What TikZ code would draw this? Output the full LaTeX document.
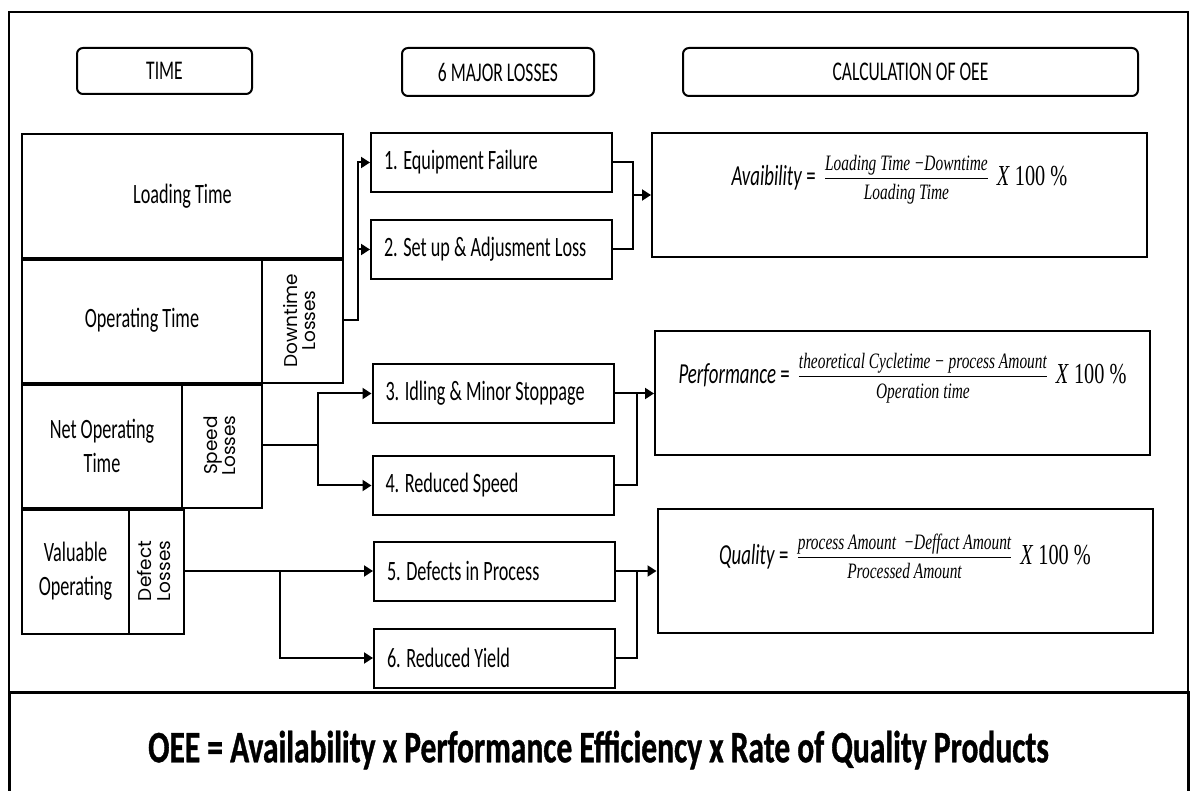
\documentclass[tikz,border=0pt]{standalone}
\usepackage{fontspec}
\setmainfont{Carlito}[FakeStretch=0.65]
\newfontfamily\eqserif{Liberation Serif}[FakeStretch=0.7]
\newfontfamily\gothic{Poppins}
\newfontfamily\oeefont{Carlito}[FakeStretch=0.7, FakeBold=0.8]
\usetikzlibrary{arrows.meta,positioning,calc}
\newcommand{\ratio}[2]{\hspace{5pt}{\eqserif\itshape\fontsize{22}{25}\selectfont
  \begin{tabular}[c]{@{}c@{}}#1\\\hline\rule{0pt}{22pt}#2\end{tabular}}\hspace{9pt}}
\newcommand{\sidetext}[2]{\rotatebox{90}{\gothic\fontsize{18.5}{18}\selectfont
  \begin{tabular}{@{}c@{}}#1\\#2\end{tabular}}}
\newcommand{\losslabel}[1]{\makebox[215pt][l]{#1}}
\tikzset{
  header/.style={draw, line width=2pt, rounded corners=6pt, align=center, inner sep=0pt, font=\fontsize{27}{32}\selectfont},
  block/.style={draw, line width=2pt, align=center, inner sep=0pt, font=\fontsize{28}{34}\selectfont},
  lossbox/.style={draw, line width=2pt, inner xsep=13pt, inner ysep=0pt, minimum height=59pt, font=\fontsize{28}{34}\selectfont},
  eqbox/.style={draw, line width=2pt, minimum width=495pt, minimum height=124pt, inner sep=0pt},
  formula/.style={inner sep=0pt, font=\fontsize{29}{34}\selectfont},
  sep/.style={line width=4.5pt},
  link/.style={line width=2pt},
  arrow/.style={-{Triangle[length=9pt,width=11pt]}, line width=2pt}
}

\begin{document}
\begin{tikzpicture}[x=1pt, y=-1pt]
  \useasboundingbox (0,0) rectangle (1192,791);
  \draw[line width=2pt] (9,12) rectangle (1188,692);

  % column headings
  \node[header, minimum width=175pt, minimum height=46pt] (time) at (164.5,71) {TIME};
  \node[header, minimum width=192pt, minimum height=48pt] (majorlosses) at (498,72) {6 MAJOR LOSSES};
  \node[header, minimum width=455pt, minimum height=48pt] (calcoee) at (910.5,72) {CALCULATION OF OEE};

  % time blocks
  \node[block, minimum width=321pt, minimum height=124pt] (loading) at (182.5,196) {Loading Time};
  \node[block, minimum width=240pt, minimum height=125pt] (operating) at (142,320.5) {Operating Time};
  \node[block, minimum width=81pt, minimum height=125pt] (downtime) at (302.5,320.5) {\sidetext{Downtime}{Losses}};
  \node[block, minimum width=160pt, minimum height=125pt] (netop) at (102,445.5) {Net Operating\\Time};
  \node[block, minimum width=80pt, minimum height=125pt] (speed) at (222,445.5) {\sidetext{Speed}{Losses}};
  \node[block, minimum width=107pt, minimum height=126pt] (valuable) at (75.5,571) {Valuable\\Operating};
  \node[block, minimum width=55pt, minimum height=126pt] (defect) at (156.5,571) {\sidetext{Defect}{Losses}};
  \draw[sep] (loading.south west) -- (loading.south east);
  \draw[sep] (operating.south west) -- (operating.south east);
  \draw[sep] (netop.south west) -- (netop.south east);

  % losses
  \node[lossbox] (fail) at (491.5,162.5) {\losslabel{1. Equipment Failure}};
  \node[lossbox, below=26pt of fail] (setup) {\losslabel{2. Set up \& Adjusment Loss}};
  \node[lossbox] (idling) at (493,393.5) {\losslabel{3. Idling \& Minor Stoppage}};
  \node[lossbox, below=31pt of idling] (reduced) {\losslabel{4. Reduced Speed}};
  \node[lossbox] (defects) at (494.5,571) {\losslabel{5. Defects in Process}};
  \node[lossbox, below=26pt of defects] (yield) {\losslabel{6. Reduced Yield}};

  % formulas
  \node[eqbox] (avail) at (899.5,195) {};
  \node[formula] (availeq) at ([yshift=15pt]avail.center)
    {\textit{Avaibility} = \ratio{Loading Time −Downtime}{Loading Time}{\eqserif\textit{X} 100 \%}};
  \node[eqbox] (perf) at (902.5,393.5) {};
  \node[formula] (perfeq) at ([yshift=15pt]perf.center)
    {\textit{Performance} = \ratio{theoretical Cycletime − process Amount}{Operation time}{\eqserif\textit{X} 100 \%}};
  \node[eqbox] (qual) at (905,571) {};
  \node[formula] (qualeq) at ([yshift=12pt]qual.center)
    {\textit{Quality} = \ratio{process Amount \ −Deffact Amount}{Processed Amount}{\eqserif\textit{X} 100 \%}};

  % bottom line
  \node[draw, line width=3pt, minimum width=1179pt, minimum height=116pt, inner sep=0pt, font=\oeefont\bfseries\fontsize{45}{52}\selectfont] (oee) at (598.5,750)
    {OEE = Availability x Performance Efficiency x Rate of Quality Products};

  % connectors
  \draw[arrow] (downtime.east) -- ++(14,0) |- (fail.west);
  \draw[arrow] (downtime.east) -- ++(14,0) |- (setup.west);
  \draw[arrow] (speed.east) -- ++(55,0) |- (idling.west);
  \draw[arrow] (speed.east) -- ++(55,0) |- (reduced.west);
  \draw[arrow] (defect.east) -- (defects.west);
  \draw[arrow] (defect.east) -- ++(95,0) |- (yield.west);
  \draw[link] (fail.east) -- ++(20,0) coordinate (ajoin) |- (setup.east);
  \draw[arrow] (ajoin |- avail.west) -- (avail.west);
  \draw[link] (reduced.east) -- ++(22,0) |- (idling.east);
  \draw[arrow] (idling.east) -- (perf.west);
  \draw[link] (yield.east) -- ++(21,0) |- (defects.east);
  \draw[arrow] (defects.east) -- (qual.west);
\end{tikzpicture}
\end{document}
